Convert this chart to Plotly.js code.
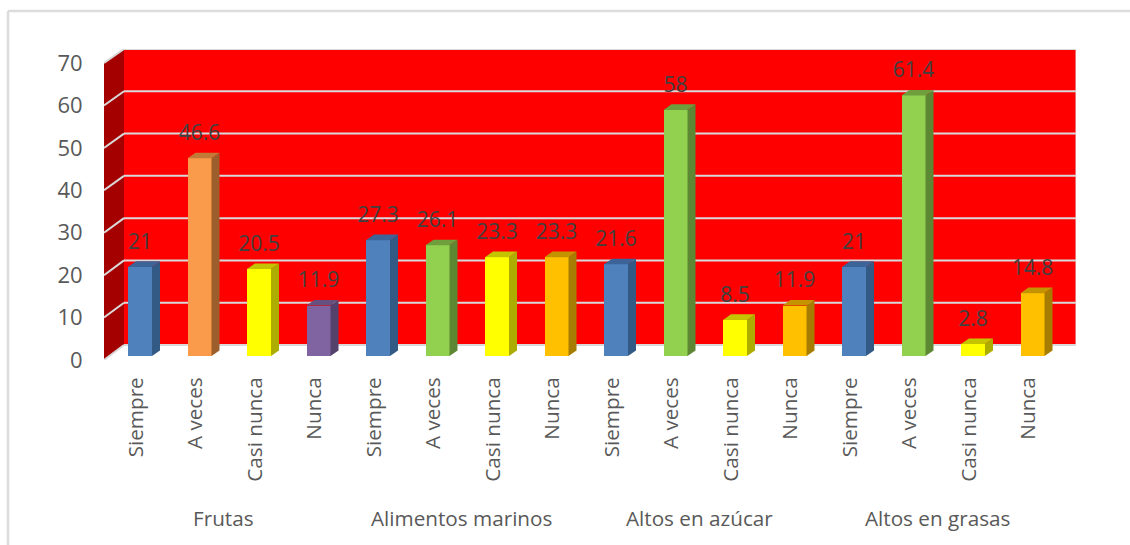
<!DOCTYPE html>
<html>
<head>
<meta charset="utf-8">
<script src="https://cdn.plot.ly/plotly-3.0.1.min.js"></script>
<style>html,body{margin:0;padding:0;background:#fff}#chart{width:1130px;height:545px}</style>
</head>
<body>
<div id="chart"></div>
<script>
const groups = ["Frutas", "Alimentos marinos", "Altos en azúcar", "Altos en grasas"];
const answers = ["Siempre", "A veces", "Casi nunca", "Nunca"];
const frutas = [21, 46.6, 20.5, 11.9];
const marinos = [27.3, 26.1, 23.3, 23.3];
const azucar = [21.6, 58, 8.5, 11.9];
const grasas = [21, 61.4, 2.8, 14.8];
const yTicks = [0, 10, 20, 30, 40, 50, 60, 70];

const frontFrutas = ["#4f81bd", "#fa9a4b", "#ffff00", "#8064a2"];
const sideFrutas = ["#335a85", "#9c5f2b", "#adad00", "#54416c"];
const topFrutas = ["#3d6499", "#c47a37", "#c4c400", "#66507f"];
const frontOther = ["#4f81bd", "#92d050", "#ffff00", "#ffc000"];
const sideOther = ["#335a85", "#5d8733", "#adad00", "#a67d00"];
const topOther = ["#3d6499", "#6f9e3d", "#c4c400", "#c49400"];

const W = 1130, H = 545;
const plotL = 104, plotR = 1076, plotT = 49, plotB = 360;
const x0px = 140, stepPx = 59.5, y0px = 356, unitPx = 4.243;
const X = px => (px - x0px) / stepPx;
const Y = px => (y0px - px) / unitPx;
const barW = 24 / stepPx, dx = 8 / stepPx, dy = 5.6 / unitPx;
const labelGap = 13 / unitPx;
const groupShift = 5.5 / stepPx;

const values = [...frutas, ...marinos, ...azucar, ...grasas];
const idx = values.map((_, i) => i);
const labels = groups.flatMap(() => answers);
const front = [...frontFrutas, ...frontOther, ...frontOther, ...frontOther];
const side = [...sideFrutas, ...sideOther, ...sideOther, ...sideOther];
const top3d = [...topFrutas, ...topOther, ...topOther, ...topOther];

const traces = [{
  type: "bar", x: idx, y: values, width: barW,
  marker: {color: front, line: {width: 0}}, hoverinfo: "x+y", showlegend: false
}];
values.forEach((v, i) => {
  const l = i - barW / 2, r = i + barW / 2;
  traces.push({
    type: "scatter", mode: "lines", fill: "toself", fillcolor: side[i],
    line: {width: 0, color: side[i]}, hoverinfo: "skip", showlegend: false,
    x: [r, r + dx, r + dx, r, r], y: [0, dy, v + dy, v, 0]
  });
  traces.push({
    type: "scatter", mode: "lines", fill: "toself", fillcolor: top3d[i],
    line: {width: 0, color: top3d[i]}, hoverinfo: "skip", showlegend: false,
    x: [l, l + dx, r + dx, r, l], y: [v, v + dy, v + dy, v, v]
  });
});
traces.push({
  type: "scatter", mode: "text", x: idx, y: values.map(v => v + labelGap),
  text: values.map(String), textposition: "top center",
  textfont: {family: "Open Sans", size: 21, color: "#404040"},
  cliponaxis: false, hoverinfo: "skip", showlegend: false
});

const GRID = "#d9d9d9";
const frameX = -(plotL - 8) / (plotR - plotL), frameY = (plotB - 11) / (plotB - plotT);
const shapes = [
  {type: "path", layer: "below", line: {width: 0}, fillcolor: "#a50000", xref: "x", yref: "y",
   path: `M${X(plotL)},${Y(plotB)} L${X(124)},${Y(345)} L${X(124)},${Y(49)} L${X(plotL)},${Y(63)} Z`},
  {type: "rect", layer: "below", line: {width: 0}, fillcolor: "#ff0000", xref: "x", yref: "y",
   x0: X(124), x1: X(plotR), y0: Y(345), y1: Y(49)},
  {type: "line", layer: "below", xref: "x", yref: "y", x0: X(plotR), x1: X(plotR), y0: Y(345), y1: Y(49),
   line: {color: "rgba(217,217,217,0.7)", width: 1.5}},
  {type: "line", layer: "below", xref: "paper", yref: "paper", x0: frameX,
   x1: (W - plotL) / (plotR - plotL), y0: frameY, y1: frameY,
   line: {color: "#dcdcdc", width: 2.5}},
  {type: "line", layer: "below", xref: "paper", yref: "paper", x0: frameX, x1: frameX,
   y0: frameY, y1: (plotB - H) / (plotB - plotT),
   line: {color: "#dcdcdc", width: 2.5}}
];
yTicks.forEach(t => {
  const yBack = 345 - t * 296 / 70, yFront = 360 - t * 297 / 70;
  shapes.push({type: "line", layer: "below", xref: "x", yref: "y",
    x0: X(plotL), y0: Y(yFront), x1: X(124), y1: Y(yBack), line: {color: GRID, width: 2}});
  shapes.push({type: "line", layer: "below", xref: "x", yref: "y",
    x0: X(124), y0: Y(yBack), x1: X(plotR), y1: Y(yBack), line: {color: GRID, width: 2}});
});

const annotations = groups.map((g, i) => ({
  text: g, xref: "x", yref: "paper", x: i * answers.length + (answers.length - 1) / 2 - groupShift,
  y: (plotB - 518) / (plotB - plotT), yanchor: "middle", xanchor: "center", showarrow: false,
  font: {family: "Open Sans", size: 20.7, color: "#595959"}
}));

const layout = {
  width: W, height: H, paper_bgcolor: "#fff", plot_bgcolor: "rgba(0,0,0,0)",
  margin: {l: plotL, r: W - plotR, t: plotT, b: H - plotB, pad: 0},
  showlegend: false, bargap: 0, shapes, annotations,
  xaxis: {
    type: "linear", range: [X(plotL), X(plotR)], tickmode: "array", tickvals: idx, ticktext: labels,
    tickangle: -90, showgrid: false, zeroline: false, showline: false, ticks: "outside", ticklen: 8,
    tickcolor: "rgba(0,0,0,0)", ticklabelshift: -4, tickfont: {family: "Open Sans", size: 20.7, color: "#595959"}
  },
  yaxis: {
    range: [Y(plotB), Y(plotT)], tickmode: "array", tickvals: yTicks, showgrid: false, zeroline: false,
    showline: false, ticks: "outside", ticklen: 16, tickcolor: "rgba(0,0,0,0)", ticklabelshift: 4,
    tickfont: {family: "Open Sans", size: 22, color: "#595959"}
  }
};
Plotly.newPlot("chart", traces, layout, {displayModeBar: false, responsive: false});
</script>
</body>
</html>
